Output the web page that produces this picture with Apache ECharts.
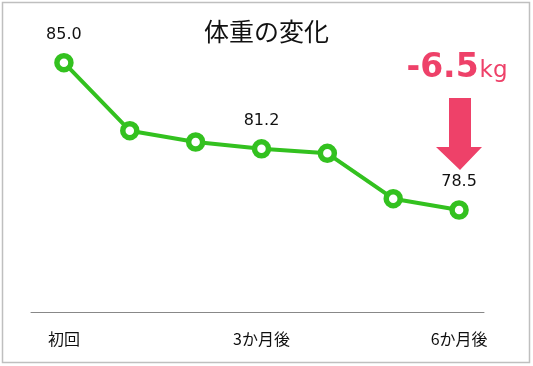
<!DOCTYPE html>
<html><head><meta charset="utf-8">
<script src="https://cdn.jsdelivr.net/npm/echarts@6/dist/echarts.min.js"></script>
<style>html,body{margin:0;padding:0;background:#fff}#c{width:533px;height:366px}</style>
</head><body><div id="c"></div>
<script>
var categories = ['初回','1か月後','2か月後','3か月後','4か月後','5か月後','6か月後'];
var weights = [85.0, 82.0, 81.5, 81.2, 81.0, 79.0, 78.5];
var labeledIdx = [0, 3, 6];
var changeText = '-6.5';
var unitText = 'kg';
var titleText = '体重の変化';

var green = '#33c11f';
var pink = '#ee4169';
var cjk = '"Noto Sans CJK JP", "Noto Sans", sans-serif';
var num = '"DejaVu Sans", sans-serif';

var seriesData = weights.map(function(v, i){
  return {value: v, label: {show: labeledIdx.indexOf(i) >= 0}};
});

var chart = echarts.init(document.getElementById('c'));
chart.setOption({
  animation: false,
  title: {text: titleText, left: 'center', top: 14,
    textStyle: {fontFamily: cjk, fontSize: 25, fontWeight: 'normal', color: '#111'}},
  grid: [
    {left: 31, right: 41, top: 40, bottom: 54},
    {left: 31, right: 49, top: 40, bottom: 54}
  ],
  xAxis: [
    {type: 'category', data: categories, boundaryGap: true, gridIndex: 0,
      axisLine: {show: false}, axisTick: {show: false},
      axisLabel: {interval: 2, color: '#111', fontSize: 16, fontFamily: cjk, margin: 19}},
    {type: 'category', data: categories, boundaryGap: true, gridIndex: 1,
      axisLine: {lineStyle: {color: '#888', width: 1}}, axisTick: {show: false},
      axisLabel: {show: false}}
  ],
  yAxis: [
    {type: 'value', min: 74, max: 86, show: false, gridIndex: 0},
    {type: 'value', min: 74, max: 86, show: false, gridIndex: 1}
  ],
  series: [{
    type: 'line', data: seriesData, xAxisIndex: 0, yAxisIndex: 0,
    symbol: 'circle', symbolSize: 14,
    lineStyle: {color: green, width: 4},
    itemStyle: {color: '#fff', borderWidth: 5.5, borderColor: green},
    label: {position: 'top', distance: 10, color: '#111', fontSize: 16, fontFamily: num,
      formatter: function(p){ return p.value.toFixed(1); }}
  }],
  graphic: [
    {type: 'rect', shape: {x: 2.5, y: 2.5, width: 527, height: 360}, style: {fill: null, stroke: '#bfbfbf', lineWidth: 1.5}, z: 100},
    {type: 'polygon', shape: {points: [[449,98],[471,98],[471,147],[482,147],[460,170],[436,147],[449,147]]}, style: {fill: pink}},
    {type: 'text', x: 457, y: 68, style: {
      text: '{a|' + changeText + '}{b|' + unitText + '}',
      align: 'center', verticalAlign: 'middle',
      rich: {
        a: {fontSize: 33, fontWeight: 'bold', fill: pink, fontFamily: num},
        b: {fontSize: 23, fill: pink, fontFamily: num, padding: [6,0,0,1]}
      }}}
  ]
});
</script></body></html>
